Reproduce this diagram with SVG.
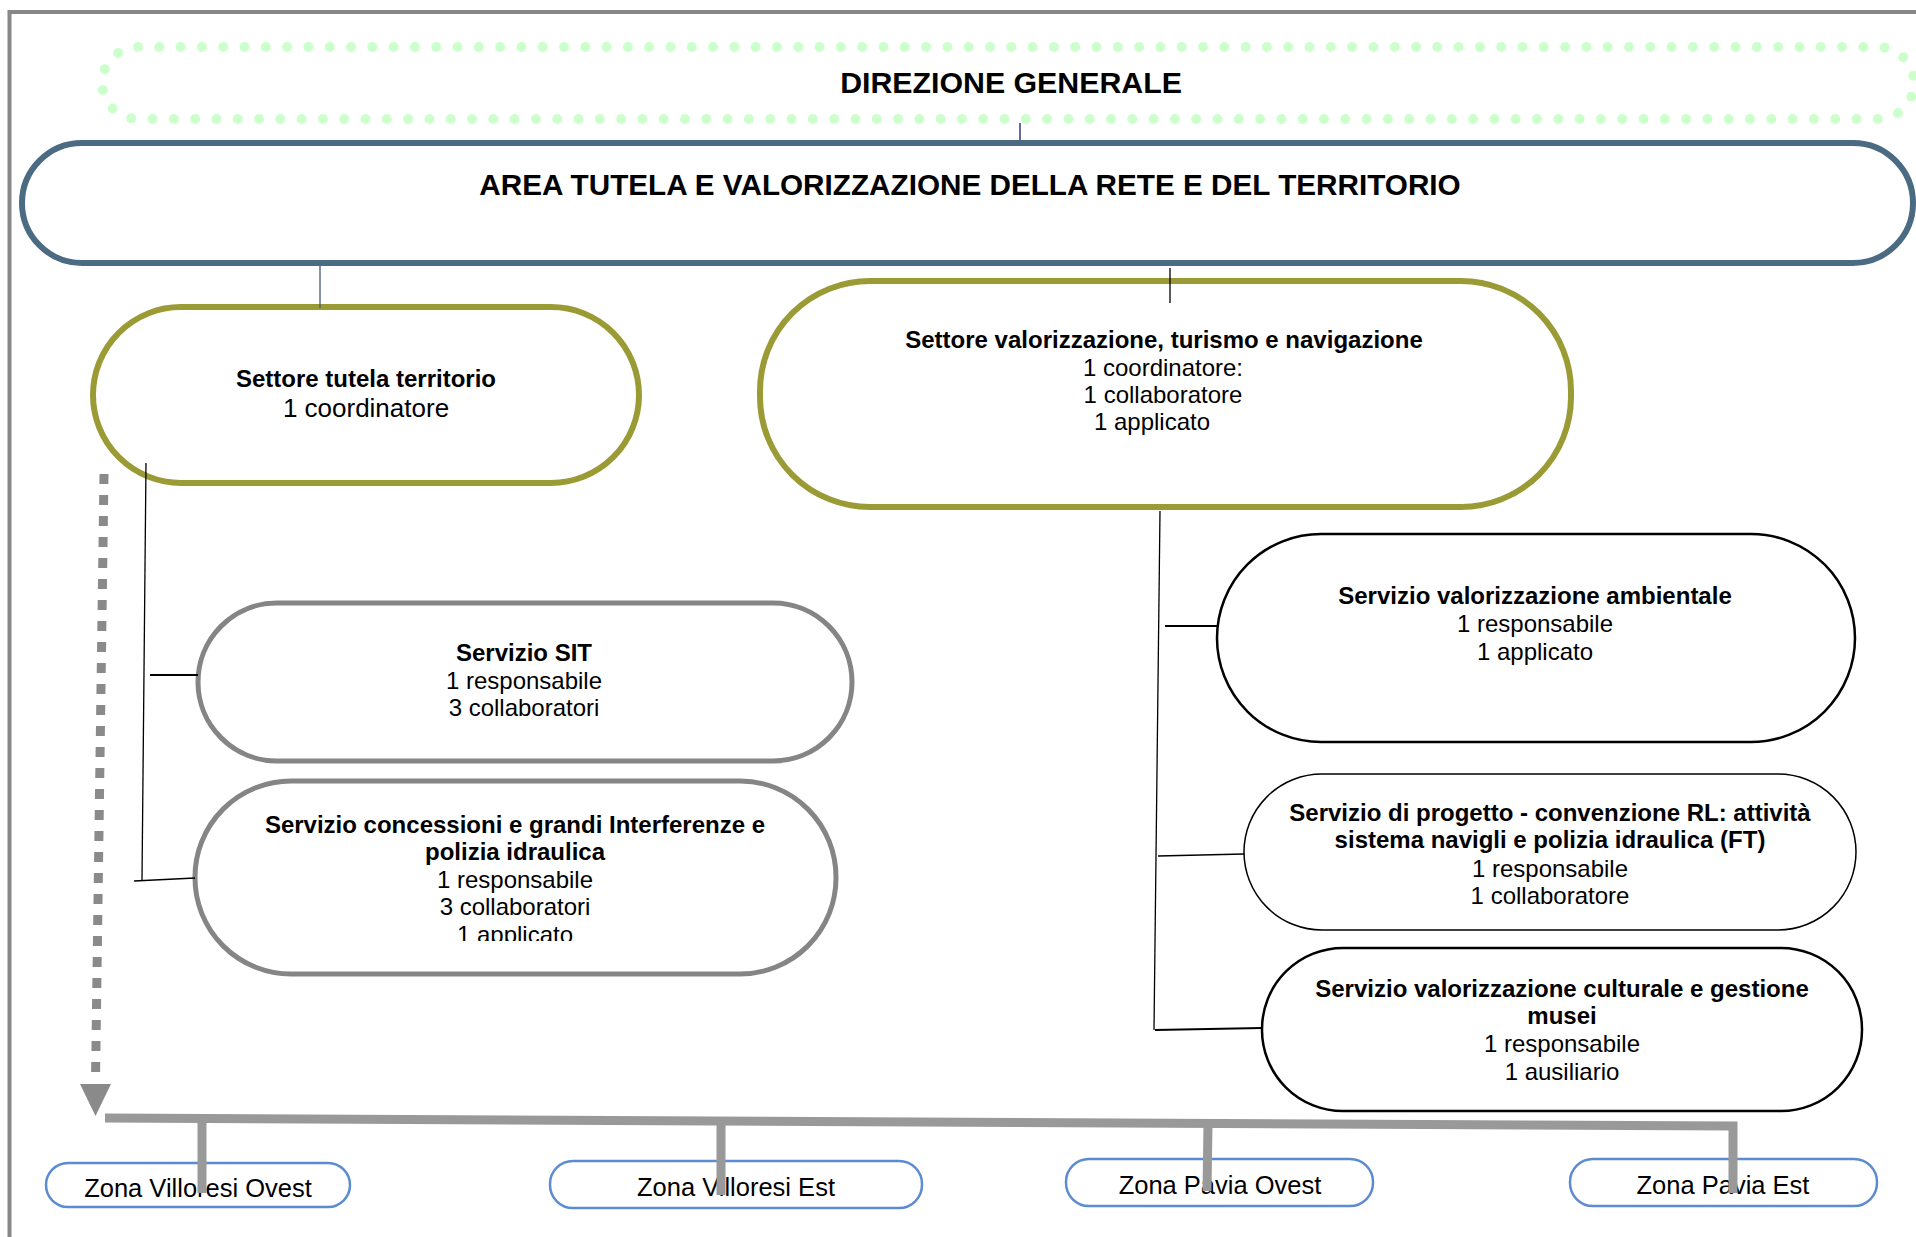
<svg xmlns="http://www.w3.org/2000/svg" width="1916" height="1237" viewBox="0 0 1916 1237">
<style>
text{font-family:"Liberation Sans",Arial,Helvetica,sans-serif;fill:#000;text-anchor:middle}
.b{font-weight:bold;font-size:24px}
.r{font-size:24px}
.olive{fill:#fff;stroke:#9b9b36;stroke-width:6}
.grey{fill:#fff;stroke:#858585;stroke-width:5}
.blk{fill:#fff;stroke:#000;stroke-width:2.5}
.zona{fill:#fff;stroke:#5b8bd1;stroke-width:2.5}
.zt{font-size:25.5px}
.thin{stroke:#000;stroke-width:1.3;fill:none}
.bus{stroke:#999;stroke-width:9;fill:none}
</style>
<defs>
<clipPath id="clipC"><rect x="150" y="780" width="700" height="161"/></clipPath>
</defs>
<rect id="frame" x="9.5" y="12" width="2000" height="1300" fill="none" stroke="#888" stroke-width="4"/>

<g id="direzione">
<rect x="102" y="47" width="1812" height="72" rx="36" ry="36" fill="none" stroke="#ccffcc" stroke-width="10" stroke-linecap="round" stroke-dasharray="0 21.3"/>
<text x="1011" y="93" style="font-weight:bold;font-size:30.3px">DIREZIONE GENERALE</text>
</g>

<g id="area">
<rect x="22" y="143" width="1891" height="120" rx="60" ry="60" fill="#fff" stroke="#4b6b82" stroke-width="6"/>
<text x="970" y="195" style="font-weight:bold;font-size:29.7px">AREA TUTELA E VALORIZZAZIONE DELLA RETE E DEL TERRITORIO</text>
</g>

<g id="settore-tutela">
<rect class="olive" x="93" y="307" width="546" height="176" rx="88" ry="88"/>
<text class="b" x="366" y="387">Settore tutela territorio</text>
<text x="366" y="417" style="font-size:26px">1 coordinatore</text>
</g>

<g id="settore-valorizzazione">
<rect class="olive" x="760" y="281" width="811" height="226" rx="110" ry="110"/>
<text class="b" x="1164" y="348">Settore valorizzazione, turismo e navigazione</text>
<text class="r" x="1163" y="376">1 coordinatore:</text>
<text class="r" x="1163" y="403">1 collaboratore</text>
<text class="r" x="1152" y="430">1 applicato</text>
</g>

<g id="servizio-sit">
<rect class="grey" x="198" y="603" width="654" height="158" rx="79" ry="79"/>
<text class="b" x="524" y="661">Servizio SIT</text>
<text class="r" x="524" y="689">1 responsabile</text>
<text class="r" x="524" y="716">3 collaboratori</text>
</g>

<g id="servizio-concessioni">
<rect class="grey" x="195" y="781" width="641" height="193" rx="96" ry="96"/>
<g clip-path="url(#clipC)">
<text class="b" x="515" y="833">Servizio concessioni e grandi Interferenze e</text>
<text class="b" x="515" y="860">polizia idraulica</text>
<text class="r" x="515" y="888">1 responsabile</text>
<text class="r" x="515" y="915">3 collaboratori</text>
<text class="r" x="515" y="943">1 applicato</text>
</g>
</g>

<g id="servizio-ambientale">
<rect class="blk" x="1217" y="534" width="638" height="208" rx="104" ry="104"/>
<text class="b" x="1535" y="604">Servizio valorizzazione ambientale</text>
<text class="r" x="1535" y="632">1 responsabile</text>
<text class="r" x="1535" y="660">1 applicato</text>
</g>

<g id="servizio-progetto">
<rect x="1244" y="774" width="612" height="156" rx="78" ry="78" fill="#fff" stroke="#000" stroke-width="1.5"/>
<text class="b" x="1550" y="821">Servizio di progetto - convenzione RL: attività</text>
<text class="b" x="1550" y="848">sistema navigli e polizia idraulica (FT)</text>
<text class="r" x="1550" y="877">1 responsabile</text>
<text class="r" x="1550" y="904">1 collaboratore</text>
</g>

<g id="servizio-culturale">
<rect class="blk" x="1262" y="948" width="600" height="163" rx="81" ry="81"/>
<text class="b" x="1562" y="997">Servizio valorizzazione culturale e gestione</text>
<text class="b" x="1562" y="1024">musei</text>
<text class="r" x="1562" y="1052">1 responsabile</text>
<text class="r" x="1562" y="1080">1 ausiliario</text>
</g>

<g id="zona-villoresi-ovest">
<rect class="zona" x="46" y="1163" width="304" height="44" rx="22" ry="22"/>
<text class="zt" x="198" y="1197">Zona Villoresi Ovest</text>
</g>
<g id="zona-villoresi-est">
<rect class="zona" x="550" y="1161" width="372" height="47" rx="23" ry="23"/>
<text class="zt" x="736" y="1196">Zona Villoresi Est</text>
</g>
<g id="zona-pavia-ovest">
<rect class="zona" x="1066" y="1159" width="307" height="47" rx="23" ry="23"/>
<text class="zt" x="1220" y="1194">Zona Pavia Ovest</text>
</g>
<g id="zona-pavia-est">
<rect class="zona" x="1570" y="1159" width="307" height="47" rx="23" ry="23"/>
<text class="zt" x="1723" y="1194">Zona Pavia Est</text>
</g>

<g id="connectors">
<line x1="1020" y1="123" x2="1020" y2="140" stroke="#6a6a9a" stroke-width="2"/>
<line x1="320" y1="266" x2="320" y2="308" stroke="#4a5a70" stroke-width="1.3"/>
<line class="thin" x1="1170" y1="268" x2="1170" y2="303"/>
<line class="thin" x1="146" y1="463" x2="142" y2="880"/>
<line class="thin" x1="134" y1="881" x2="195" y2="878"/>
<line x1="150" y1="675" x2="198" y2="675" stroke="#000" stroke-width="2"/>
<line class="thin" x1="1160" y1="511" x2="1154" y2="1030"/>
<line x1="1165" y1="626" x2="1217" y2="626" stroke="#000" stroke-width="2"/>
<line class="thin" x1="1158" y1="856" x2="1244" y2="854"/>
<line x1="1155" y1="1030" x2="1262" y2="1028" stroke="#000" stroke-width="1.8"/>
<line x1="104" y1="474" x2="95.5" y2="1080" stroke="#8a8a8a" stroke-width="9" stroke-dasharray="10 11"/>
<path d="M80,1084 L111,1084 L95.5,1116 Z" fill="#8a8a8a"/>
<polyline class="bus" points="105,1118 1733,1126 1733,1193"/>
<line class="bus" x1="202" y1="1119" x2="202" y2="1193"/>
<line class="bus" x1="721" y1="1122" x2="721" y2="1195"/>
<line class="bus" x1="1208" y1="1124" x2="1207" y2="1191"/>
</g>
</svg>
